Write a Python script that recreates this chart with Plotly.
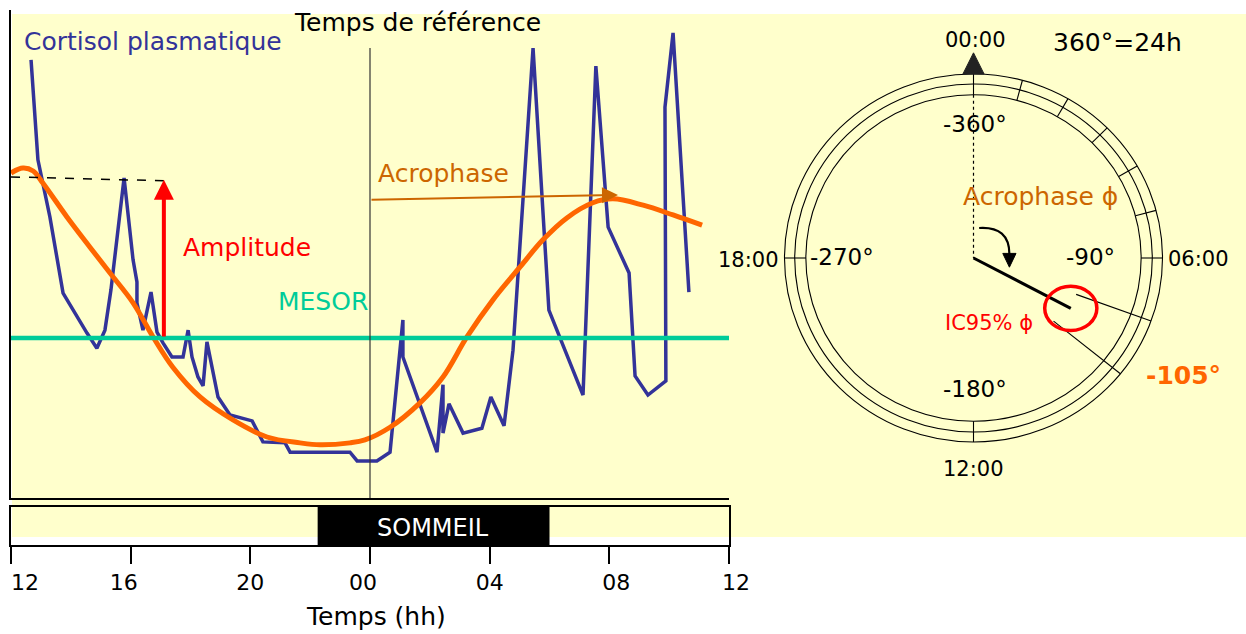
import math
import plotly.graph_objects as go

W, H = 1246, 634

# ---------------- data (left panel) ----------------
cortisol_h = [12.67, 12.90, 13.30, 13.74, 14.54, 14.87, 15.14, 15.34, 15.78, 16.08,
              16.21, 16.21, 16.41, 16.68, 16.88, 17.08, 17.38, 17.75, 17.92, 18.05,
              18.25, 18.42, 18.55, 18.92, 19.32, 20.06, 20.42, 21.16, 21.33, 23.33,
              23.57, 24.23, 24.67, 25.10, 25.10, 26.24, 26.44, 26.44, 26.64, 27.11,
              27.74, 28.04, 28.48, 28.78, 29.45, 29.98, 31.12, 31.55, 31.96, 32.66,
              32.86, 33.29, 33.89, 33.86, 34.13, 34.66]
cortisol_v = [89.8, 69.3, 57.6, 42.0, 33.8, 30.7, 34.4, 42.6, 65.6, 48.8,
              44.3, 40.0, 34.4, 42.2, 34.0, 31.8, 28.9, 28.9, 34.4, 28.9,
              24.8, 23.0, 32.0, 20.7, 17.0, 15.8, 11.5, 11.3, 9.4, 9.4,
              7.6, 7.6, 9.4, 36.5, 28.9, 9.4, 23.2, 13.3, 19.3, 13.3,
              14.3, 20.7, 14.8, 30.3, 92.2, 38.5, 21.1, 88.5, 55.5, 46.1,
              25.0, 21.1, 24.0, 80.1, 95.3, 42.2]

cosinor_h = [12.0, 12.40, 12.74, 13.07, 13.87, 14.64, 15.31, 16.08, 16.75, 17.41,
             18.32, 19.42, 20.56, 21.66, 22.33, 23.33, 23.83, 24.67, 25.67, 26.44,
             27.24, 28.11, 29.01, 29.78, 30.58, 31.45, 32.12, 33.13, 34.13, 35.10]
cosinor_v = [66.6, 67.6, 67.0, 64.5, 57.6, 51.4, 46.1, 40.0, 33.0, 26.8,
             20.7, 16.0, 12.5, 11.3, 10.9, 11.3, 11.9, 14.5, 19.5, 24.8,
             33.0, 40.6, 47.3, 52.9, 57.4, 60.5, 61.3, 60.0, 58.0, 55.9]

mesor = 32.8
amp_h = 17.11
amp_top = 65.2
dash_v = [65.8, 65.0]
ref_h = 24.0
ref_top = 92.2
acro_h = 32.29
acro_v = [61.1, 62.1]
sleep_start, sleep_end = 22.25, 30.0
tick_h = [12, 16, 20, 24, 28, 32, 36]
tick_lbl = ["12", "16", "20", "00", "04", "08", "12"]
FS = "\u2007"  # figure space used to nudge label centres as in the original
tick_pad = [0, 3, 2, 3, 2, 1, 1]

# ---------------- data (right panel, clock schematic) ----------------
ring_r = [1.0, 0.946, 0.887]
hour_ticks = [0, 1, 2, 3, 4, 5, 6, 12, 18]
hand_angle = 118.0      # drawn direction (deg, clockwise from 00:00)
hand_len = 0.583
ci_angles = [110.0, 129.0]
ci_r0 = [0.578, 0.545]
ci_ell = [0.138, 0.12]

FONT = "DejaVu Sans"
BLUE = "#333399"
ORANGE = "#FF6600"
BROWN = "#CC6600"
TEAL = "#00CC99"
RED = "#FF0000"


def px(x, y):
    return x / W, 1 - y / H


def pol(r, deg):
    a = math.radians(deg)
    return r * math.sin(a), r * math.cos(a)


fig = go.Figure()

fig.add_trace(go.Scatter(x=cortisol_h, y=cortisol_v, mode="lines",
                         line=dict(color=BLUE, width=3.5), xaxis="x", yaxis="y",
                         hoverinfo="skip"))
fig.add_trace(go.Scatter(x=cosinor_h, y=cosinor_v, mode="lines",
                         line=dict(color=ORANGE, width=5, shape="spline", smoothing=1.0),
                         xaxis="x", yaxis="y", hoverinfo="skip"))

shapes = []
# yellow background
x0, y0 = px(12, 537)
x1, y1 = px(1246, 14)
shapes.append(dict(type="rect", xref="paper", yref="paper", x0=x0, x1=x1, y0=y0, y1=y1,
                   fillcolor="#FFFFCC", line=dict(width=0), layer="below"))
# mesor
shapes.append(dict(type="line", xref="x", yref="y", x0=12, x1=36, y0=mesor, y1=mesor,
                   line=dict(color=TEAL, width=4.5)))
# reference time line
shapes.append(dict(type="line", xref="x", yref="y", x0=ref_h, x1=ref_h, y0=0, y1=ref_top,
                   line=dict(color="#333333", width=1.2)))
# dashed amplitude reference
shapes.append(dict(type="line", xref="x", yref="y", x0=12, x1=amp_h, y0=dash_v[0], y1=dash_v[1],
                   line=dict(color="black", width=1.5, dash="dash")))
# sleep block
shapes.append(dict(type="rect", xref="x3", yref="y3", x0=sleep_start, x1=sleep_end, y0=0, y1=1,
                   fillcolor="black", line=dict(width=0)))

# ---- clock rings ----
for r in ring_r:
    shapes.append(dict(type="circle", xref="x2", yref="y2", x0=-r, x1=r, y0=-r, y1=r,
                       line=dict(color="black", width=1.1)))
for hh in hour_ticks:
    a = hh * 15
    xa, ya = pol(ring_r[2], a)
    xb, yb = pol(ring_r[0], a)
    shapes.append(dict(type="line", xref="x2", yref="y2", x0=xa, y0=ya, x1=xb, y1=yb,
                       line=dict(color="black", width=1.1)))
# dotted line from 00:00 to centre
shapes.append(dict(type="line", xref="x2", yref="y2", x0=0, y0=ring_r[2], x1=0, y1=0,
                   line=dict(color="black", width=1.2, dash="dot")))
# CI rays
for a, r0 in zip(ci_angles, ci_r0):
    xa, ya = pol(r0, a)
    xb, yb = pol(ring_r[0], a)
    shapes.append(dict(type="line", xref="x2", yref="y2", x0=xa, y0=ya, x1=xb, y1=yb,
                       line=dict(color="black", width=1.1)))
# acrophase hand
hx, hy = pol(hand_len, hand_angle)
shapes.append(dict(type="line", xref="x2", yref="y2", x0=0, y0=0, x1=hx, y1=hy,
                   line=dict(color="black", width=3)))
# CI ellipse
shapes.append(dict(type="circle", xref="x2", yref="y2",
                   x0=hx - ci_ell[0], x1=hx + ci_ell[0], y0=hy - ci_ell[1], y1=hy + ci_ell[1],
                   line=dict(color=RED, width=3.5)))
# curved arrow
sx, sy = 0.03, 0.163
ex, ey = 0.19, 0.02
shapes.append(dict(type="path", xref="x2", yref="y2",
                   path=f"M {sx},{sy} Q {ex},{sy + 0.01} {ex},{ey}",
                   line=dict(color="black", width=2.2)))
shapes.append(dict(type="path", xref="x2", yref="y2",
                   path=f"M {ex - 0.035},{ey + 0.005} L {ex + 0.035},{ey + 0.005} L {ex},{ey - 0.07} Z",
                   fillcolor="black", line=dict(color="black", width=1)))
# top triangle marker
shapes.append(dict(type="path", xref="x2", yref="y2",
                   path=f"M -0.056,{ring_r[0]} L 0.056,{ring_r[0]} L 0,{ring_r[0] + 0.115} Z",
                   fillcolor="#222222", line=dict(color="#222222", width=1)))

annotations = []


def txt(s, x, y, size, color="black", bold=False):
    xx, yy = px(x, y)
    if bold:
        s = f"<b>{s}</b>"
    annotations.append(dict(text=s, x=xx, y=yy, xref="paper", yref="paper",
                            xanchor="center", yanchor="middle", showarrow=False,
                            font=dict(family=FONT, size=size, color=color)))


txt("Cortisol plasmatique", 153, 41, 25, BLUE)
txt("Temps de référence", 417, 22, 25)
txt("Amplitude", 247, 247, 25, RED)
txt("MESOR", 323, 302, 25, TEAL)
txt("Acrophase", 443, 173, 25, BROWN)
txt("SOMMEIL", 433, 528, 24, "white")
txt("Temps (hh)", 376, 616, 25)
txt("00:00", 975, 40, 21)
txt("360°=24h", 1117, 42, 25)
txt("-360°", 975, 124, 23)
txt("Acrophase ϕ", 1040, 196, 25, BROWN)
txt("18:00", 748, 260, 21)
txt("-270°", 842, 257, 23)
txt("-90°", 1090, 257, 23)
txt("06:00", 1198, 259, 21)
txt("IC95% ϕ", 989, 323, 21, RED)
txt("-105°", 1183, 375, 25, ORANGE, bold=True)
txt("-180°", 975, 389, 23)
txt("12:00", 973, 469, 21)

# amplitude arrow
annotations.append(dict(x=amp_h, y=amp_top, ax=amp_h, ay=mesor, xref="x", yref="y",
                        axref="x", ayref="y", showarrow=True, arrowhead=2, arrowsize=1.0,
                        arrowwidth=4, arrowcolor=RED, text="", standoff=0))
# acrophase arrow
annotations.append(dict(x=acro_h, y=acro_v[1], ax=ref_h, ay=acro_v[0], xref="x", yref="y",
                        axref="x", ayref="y", showarrow=True, arrowhead=2, arrowsize=1.6,
                        arrowwidth=2, arrowcolor=BROWN, text="", standoff=0))

# axes domains
xd = [11 / W, 729 / W]
yd = [1 - 498 / H, 1 - 10 / H]
y3d = [1 - 545 / H, 1 - 507 / H]
x2d = [740 / W, 1.0]
cx, cy, rx, ry = 973.5, 258.0, 189.0, 184.0
x2r = [(740 - cx) / rx, (W - cx) / rx]
y2r = [(cy - H) / ry, cy / ry]

tick_text = [t + FS * n for t, n in zip(tick_lbl, tick_pad)]

fig.update_layout(
    width=W, height=H, autosize=False, margin=dict(l=0, r=0, t=0, b=0, pad=0),
    paper_bgcolor="white", plot_bgcolor="rgba(0,0,0,0)",
    showlegend=False,
    shapes=shapes, annotations=annotations,
    xaxis=dict(domain=xd, range=[12, 36], showgrid=False, zeroline=False,
               showticklabels=False, ticks="", showline=True, linecolor="black",
               linewidth=2, anchor="y", automargin=False),
    yaxis=dict(domain=yd, range=[0, 100], showgrid=False, zeroline=False,
               showticklabels=False, ticks="", showline=True, linecolor="black",
               linewidth=2, anchor="x", automargin=False),
    xaxis3=dict(domain=xd, range=[12, 36], anchor="y3", showgrid=False, zeroline=False,
                tickvals=tick_h, ticktext=tick_text, ticks="outside", ticklen=17,
                tickwidth=1.5, tickcolor="black", showline=True, mirror=True,
                linecolor="black", linewidth=1.5, ticklabeloverflow="allow",
                ticklabelshift=14, automargin=False,
                tickfont=dict(family=FONT, size=22, color="black")),
    yaxis3=dict(domain=y3d, range=[0, 1], anchor="x3", showgrid=False, zeroline=False,
                showticklabels=False, ticks="", showline=True, mirror=True,
                linecolor="black", linewidth=1.5, automargin=False),
    xaxis2=dict(domain=x2d, range=x2r, anchor="y2", visible=False, automargin=False),
    yaxis2=dict(domain=[0, 1], range=y2r, anchor="x2", visible=False, automargin=False),
)

fig.write_html("out.html", config={"responsive": False, "displayModeBar": False})
